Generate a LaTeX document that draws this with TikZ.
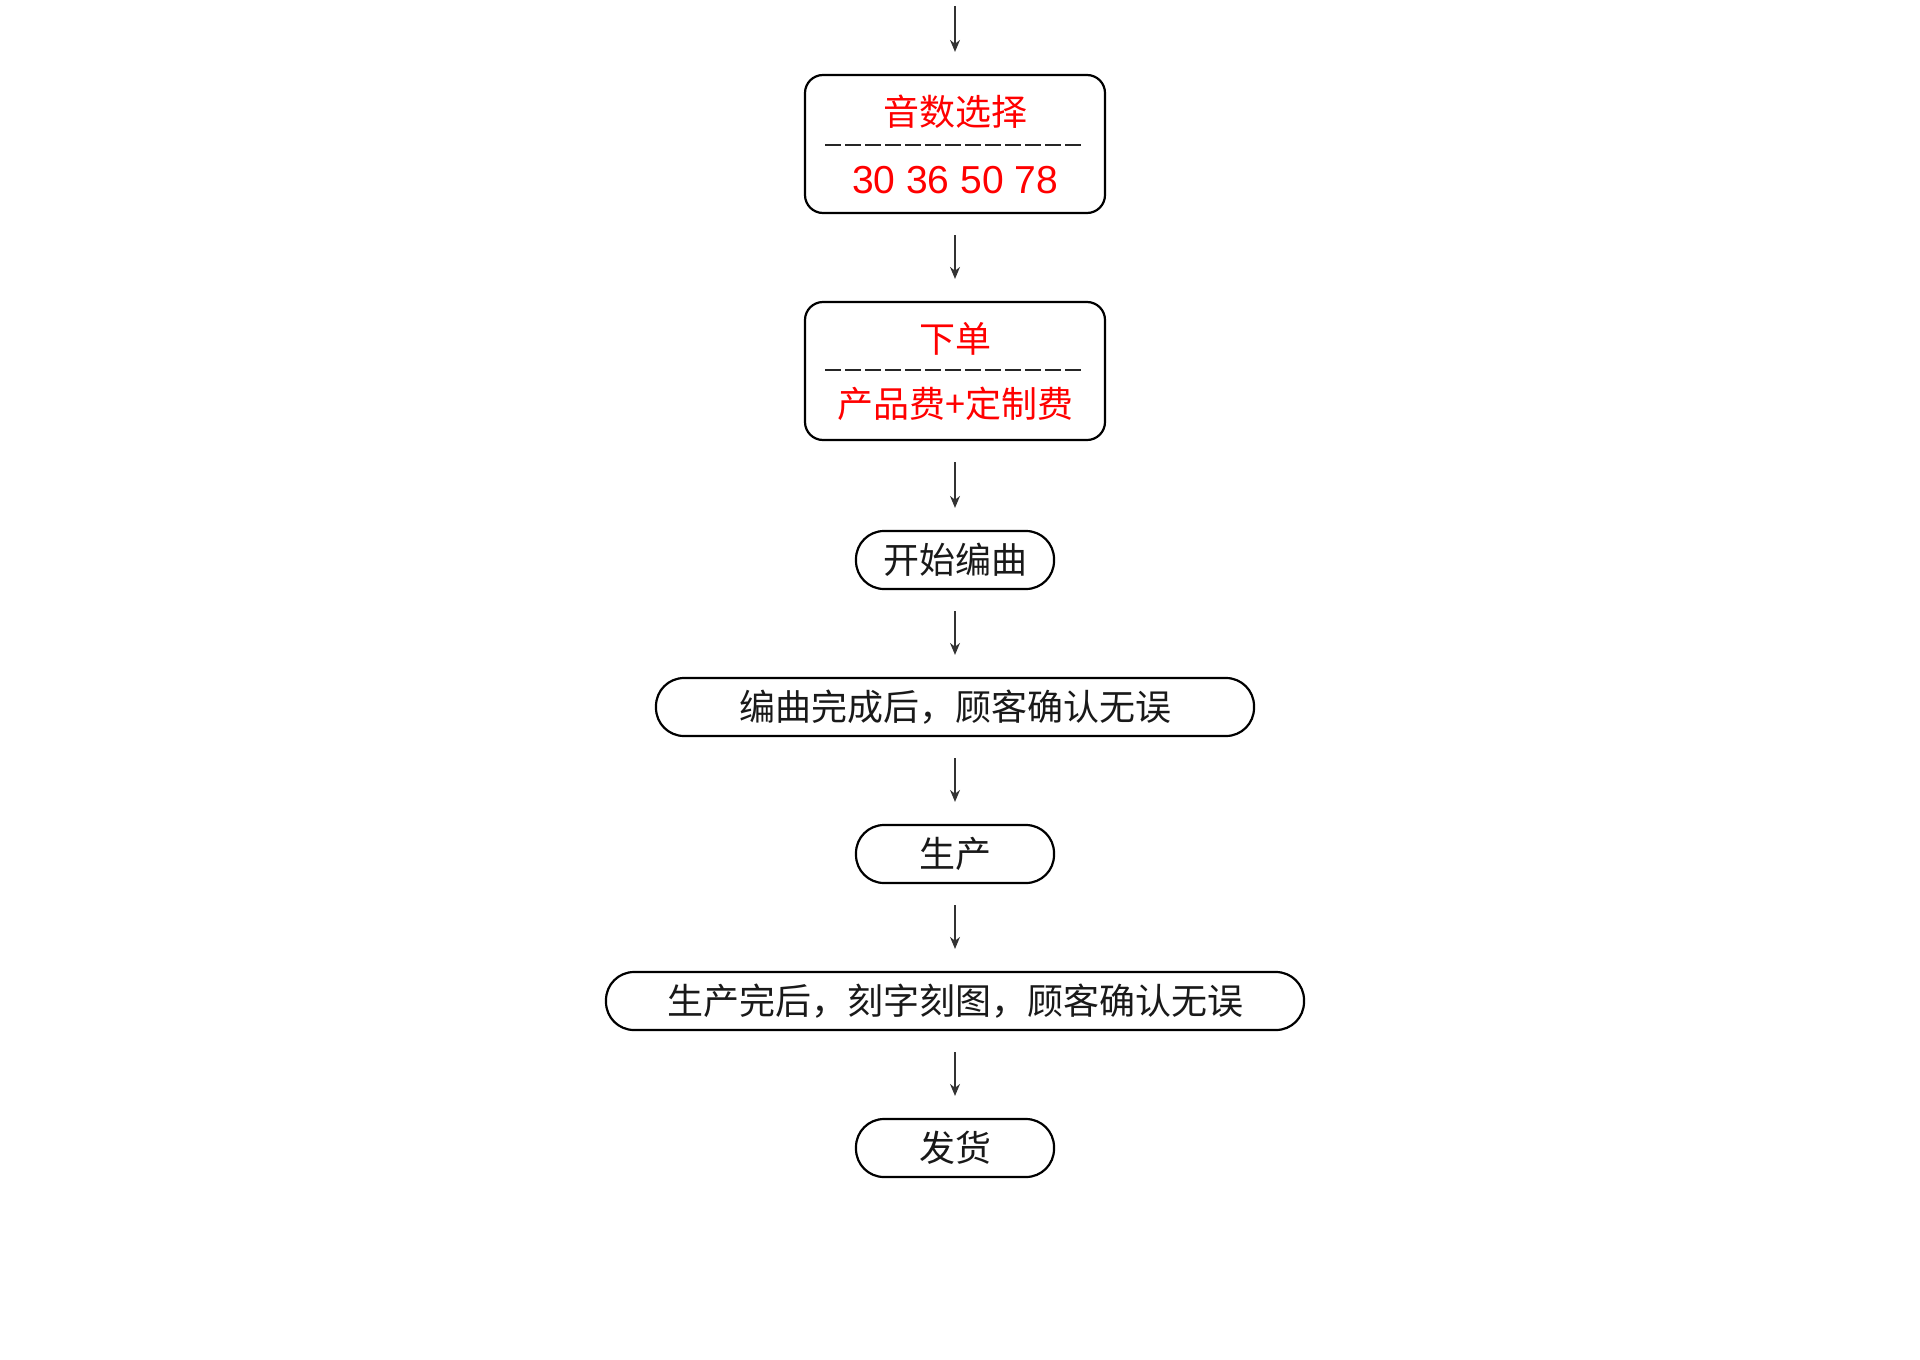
\documentclass[tikz,border=0pt]{standalone}
\usepackage{fontspec}
\setmainfont{Noto Sans CJK SC}
\newfontfamily\numfont{Liberation Sans}
\usetikzlibrary{arrows.meta}
\begin{document}
\begin{tikzpicture}[x=0.5pt,y=-0.5pt,
  box/.style={draw=black, line width=1.1pt, rounded corners=9pt, minimum width=150pt, minimum height=69pt, inner sep=0pt},
  pill/.style={draw=black, line width=1.1pt, rounded corners=14pt, minimum height=29pt, inner sep=0pt, font=\fontsize{18pt}{20pt}\selectfont, text=black!90},
  lbl/.style={font=\fontsize{18pt}{20pt}\selectfont, inner sep=0pt},
  redlbl/.style={lbl, text=red},
  numlbl/.style={font=\numfont\fontsize{19.5pt}{22pt}\selectfont, inner sep=0pt, text=red},
  sep/.style={draw=black!85, line width=0.75pt, dash pattern=on 8pt off 2pt},
  flow/.style={draw=black!80, line width=0.6pt, -{Stealth[length=6pt,width=5pt]}, shorten <=10.5pt, shorten >=11pt}
]
\useasboundingbox (0,0) rectangle (1920,1359);
% boxes
\node[box] (b1) at (955,144) {};
\node[redlbl] (b1t) at (955,112) {音数选择};
\node[numlbl] (b1n) at (955,180) {30 36 50 78};
\draw[sep] (825,145) -- (1083,145);

\node[box] (b2) at (955,371) {};
\node[redlbl] (b2t) at (955,339) {下单};
\node[redlbl] (b2n) at (955,404) {产品费+定制费};
\draw[sep] (825,370) -- (1083,370);

\node[pill, minimum width=99pt] (b3) at (955,560) {开始编曲};
\node[pill, minimum width=299pt] (b4) at (955,707) {编曲完成后，顾客确认无误};
\node[pill, minimum width=99pt] (b5) at (955,854) {生产};
\node[pill, minimum width=349pt] (b6) at (955,1001) {生产完后，刻字刻图，顾客确认无误};
\node[pill, minimum width=99pt] (b7) at (955,1148) {发货};

\coordinate (top) at (955,-15);
\draw[flow] (top) -- (b1.north);
\draw[flow] (b1.south) -- (b2.north);
\draw[flow] (b2.south) -- (b3.north);
\draw[flow] (b3.south) -- (b4.north);
\draw[flow] (b4.south) -- (b5.north);
\draw[flow] (b5.south) -- (b6.north);
\draw[flow] (b6.south) -- (b7.north);
\end{tikzpicture}
\end{document}
